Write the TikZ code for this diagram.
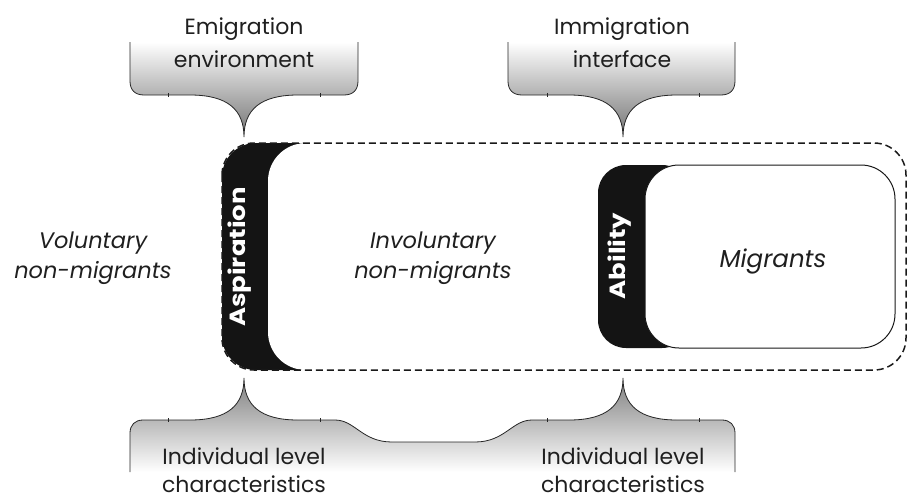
\documentclass[tikz,border=0pt]{standalone}
\usepackage{fontspec}
\setmainfont{Poppins}
\begin{document}
\begin{tikzpicture}[x=1pt,y=-1pt,
  lbl/.style={font=\fontsize{22}{26}\selectfont, text=black!88, inner sep=0pt, anchor=base},
  ital/.style={font=\fontsize{22.5}{26}\selectfont\itshape, text=black!88, inner sep=0pt, anchor=base},
  vlbl/.style={font=\fontsize{22}{26}\selectfont\bfseries, text=white, rotate=90, inner sep=0pt, anchor=base},
  outline/.style={draw=black!85, line width=0.8pt},
  tick/.style={draw=black!85, line width=0.6pt},
  topshade/.style={top color=white, bottom color=black!55},
  botshade/.style={top color=black!50, bottom color=white},
]
\useasboundingbox (0,0) rectangle (908,499);

% ---------- top left callout ----------
\path[topshade] (130,42) -- (130,81) .. controls (130,90) and (135,95) .. (144,95) -- (190,95)
  .. controls (228,95) and (244,110) .. (244,137) .. controls (244,110) and (260,95) .. (298,95)
  -- (344,95) .. controls (353,95) and (358,90) .. (358,81) -- (358,42) -- cycle;
\draw[outline] (130,42) -- (130,81) .. controls (130,90) and (135,95) .. (144,95) -- (190,95)
  .. controls (228,95) and (244,110) .. (244,137) .. controls (244,110) and (260,95) .. (298,95)
  -- (344,95) .. controls (353,95) and (358,90) .. (358,81) -- (358,42);
\draw[tick] (168,93) -- (168,97) (320,93) -- (320,97);

% ---------- top right callout ----------
\path[topshade] (508,42) -- (508,81) .. controls (508,90) and (513,95) .. (522,95) -- (569,95)
  .. controls (607,95) and (623,110) .. (623,137) .. controls (623,110) and (639,95) .. (677,95)
  -- (721,95) .. controls (730,95) and (735,90) .. (735,81) -- (735,42) -- cycle;
\draw[outline] (508,42) -- (508,81) .. controls (508,90) and (513,95) .. (522,95) -- (569,95)
  .. controls (607,95) and (623,110) .. (623,137) .. controls (623,110) and (639,95) .. (677,95)
  -- (721,95) .. controls (730,95) and (735,90) .. (735,81) -- (735,42);
\draw[tick] (547,93) -- (547,97) (699,93) -- (699,97);

% ---------- bottom double callout ----------
\path[botshade] (130,472) -- (130,433) .. controls (130,425) and (135,420) .. (143,420) -- (190,420)
  .. controls (228,420) and (244,405) .. (244,378) .. controls (244,405) and (260,420) .. (298,420)
  -- (335,420) .. controls (355,420) and (362,442) .. (392,442) -- (475,442)
  .. controls (505,442) and (512,420) .. (532,420) -- (569,420)
  .. controls (607,420) and (623,405) .. (623,378) .. controls (623,405) and (639,420) .. (677,420)
  -- (722,420) .. controls (730,420) and (735,425) .. (735,433) -- (735,472) -- cycle;
\draw[outline] (130,472) -- (130,433) .. controls (130,425) and (135,420) .. (143,420) -- (190,420)
  .. controls (228,420) and (244,405) .. (244,378) .. controls (244,405) and (260,420) .. (298,420)
  -- (335,420) .. controls (355,420) and (362,442) .. (392,442) -- (475,442)
  .. controls (505,442) and (512,420) .. (532,420) -- (569,420)
  .. controls (607,420) and (623,405) .. (623,378) .. controls (623,405) and (639,420) .. (677,420)
  -- (722,420) .. controls (730,420) and (735,425) .. (735,433) -- (735,472);
\draw[tick] (168,418) -- (168,422) (320,418) -- (320,422) (547,418) -- (547,422) (699,418) -- (699,422);

% ---------- main dashed region ----------
\fill[black!92, rounded corners=34] (222,143) rectangle (330,370);
\fill[white, rounded corners=38] (268,143) rectangle (906,370);
\draw[black!90, line width=1.5pt, dash pattern=on 7pt off 4pt, rounded corners=32] (222,143) rectangle (906,370);

% ---------- ability / migrants ----------
\fill[black!92, rounded corners=28] (598,165) rectangle (690,348);
\draw[fill=white, draw=black!90, line width=1pt, rounded corners=34] (645,165) rectangle (895,348);

% ---------- texts ----------
\node[lbl] (emig1) at (244,34) {Emigration};
\node[lbl] (emig2) at (244,67) {environment};
\node[lbl] (immi1) at (622,34) {Immigration};
\node[lbl] (immi2) at (622,67) {interface};
\node[lbl] (ind1) at (244,464) {Individual level};
\node[lbl] (ind2) at (244,492) {characteristics};
\node[lbl] (ind3) at (623,464) {Individual level};
\node[lbl] (ind4) at (623,492) {characteristics};
\node[ital] (vol1) at (93,248) {Voluntary};
\node[ital] (vol2) at (93,278) {non-migrants};
\node[ital] (inv1) at (433,248) {Involuntary};
\node[ital] (inv2) at (433,278) {non-migrants};
\node[ital, font=\fontsize{24.5}{28}\selectfont\itshape] (mig) at (773,267) {Migrants};
\node[vlbl] (asp) at (245,257) {\scalebox{1.18}[1]{Aspiration}};
\node[vlbl] (abl) at (625,256) {\scalebox{1.18}[1]{Ability}};
\end{tikzpicture}
\end{document}
